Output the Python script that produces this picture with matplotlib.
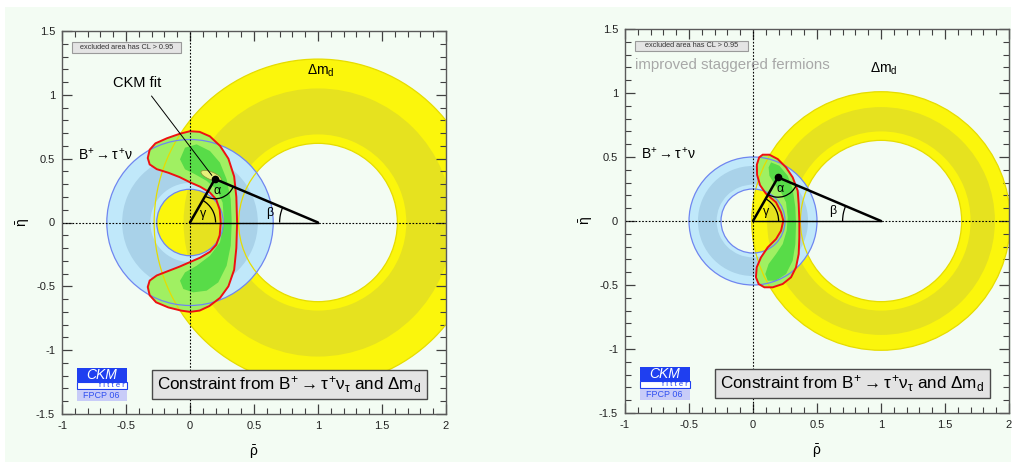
import matplotlib
matplotlib.use('Agg')
import matplotlib.pyplot as plt
from matplotlib.patches import Wedge, Circle, Polygon, Ellipse, Arc, Rectangle
from matplotlib.ticker import MultipleLocator, FuncFormatter
import numpy as np

plt.rcParams['font.family'] = ['Liberation Sans', 'DejaVu Sans']
plt.rcParams['mathtext.fontset'] = 'custom'
plt.rcParams['mathtext.rm'] = 'Liberation Sans'
plt.rcParams['mathtext.it'] = 'Liberation Sans'
plt.rcParams['mathtext.bf'] = 'Liberation Sans:bold'
plt.rcParams['axes.unicode_minus'] = False

# ---------------- data ----------------
apex_rho, apex_eta = 0.195, 0.341          # CKM fit apex
dmd_center = (1.0, 0.0)
btau_center = (0.0, 0.0)

# radii: [95% inner, 68% inner, 68% outer, 95% outer]
dmd_radii_left = [0.62, 0.69, 1.05, 1.28]
btau_radii_left = [0.26, 0.31, 0.53, 0.65]
dmd_radii_right = [0.63, 0.70, 0.89, 1.01]
btau_radii_right = [0.25, 0.284, 0.43, 0.50]

# combined constraint contours
left95_rho = [0.368, 0.362, 0.345, 0.300, 0.235, 0.155, 0.075, 0.000, -0.080, -0.180, -0.270,
              -0.315, -0.330, -0.315, -0.260, -0.170, -0.080, 0.000, 0.080, 0.155, 0.205, 0.232,
              0.240, 0.232, 0.205, 0.155, 0.080, 0.000, -0.080, -0.170, -0.260, -0.315, -0.330,
              -0.315, -0.265, -0.170, -0.070, 0.000, 0.075, 0.150, 0.235, 0.300, 0.345, 0.362]
left95_eta = [0.000, 0.200, 0.360, 0.500, 0.600, 0.675, 0.710, 0.715, 0.695, 0.660, 0.620,
              0.570, 0.505, 0.455, 0.418, 0.390, 0.355, 0.315, 0.280, 0.235, 0.180, 0.100,
              0.000, -0.100, -0.175, -0.230, -0.275, -0.310, -0.345, -0.380, -0.415, -0.455, -0.505,
              -0.570, -0.625, -0.665, -0.690, -0.700, -0.690, -0.655, -0.590, -0.500, -0.370, -0.200]

left68_rho = [-0.039, 0.052, 0.156, 0.234, 0.286, 0.318, 0.326, 0.318, 0.286, 0.221, 0.130,
              0.026, -0.052, -0.078, -0.039, 0.052, 0.156, 0.234, 0.266, 0.255, 0.208, 0.130,
              0.039, -0.039, -0.078]
left68_eta = [0.586, 0.612, 0.560, 0.469, 0.339, 0.182, 0.000, -0.182, -0.339, -0.469, -0.534,
              -0.547, -0.521, -0.456, -0.391, -0.339, -0.260, -0.156, 0.000, 0.156, 0.260, 0.326,
              0.378, 0.417, 0.495]

right95_rho = [0.076, 0.128, 0.193, 0.258, 0.310, 0.349, 0.357, 0.362, 0.362, 0.357, 0.336,
               0.297, 0.232, 0.154, 0.089, 0.044, 0.023, 0.029, 0.0625, 0.115, 0.180, 0.219,
               0.237, 0.219, 0.180, 0.100, 0.055, 0.032, 0.030, 0.048]
right95_eta = [0.518, 0.518, 0.484, 0.419, 0.341, 0.237, 0.133, 0.003, -0.128, -0.258, -0.362,
               -0.440, -0.492, -0.518, -0.518, -0.492, -0.440, -0.362, -0.284, -0.206, -0.141, -0.076,
               0.003, 0.068, 0.146, 0.215, 0.280, 0.360, 0.440, 0.497]

right68_rho = [0.141, 0.206, 0.271, 0.310, 0.331, 0.336, 0.331, 0.310, 0.258, 0.180, 0.115,
               0.096, 0.122, 0.180, 0.232, 0.263, 0.271, 0.258, 0.219, 0.167, 0.128, 0.122]
right68_eta = [0.458, 0.432, 0.354, 0.250, 0.107, -0.023, -0.180, -0.310, -0.414, -0.466, -0.466,
               -0.414, -0.336, -0.258, -0.180, -0.076, 0.029, 0.146, 0.224, 0.289, 0.354, 0.419]

x_major = [-1, -0.5, 0, 0.5, 1, 1.5, 2]
y_major = [-1.5, -1, -0.5, 0, 0.5, 1, 1.5]

# ---------------- colours ----------------
BG = '#f3fcf3'
Y95, Y68 = '#fbf60c', '#e6e21f'
B95, B68 = '#c0e8fa', '#a9d2e9'
BLINE = '#6f86f0'
G95, G68 = '#a0f062', '#58dc48'
RED = '#ee1111'
YLINE = '#e6dc00'

fig = plt.figure(figsize=(10.15, 4.68), dpi=100, facecolor='white')
fig.patches.append(Rectangle((5 / 1015, 6 / 468), 1006 / 1015, 455 / 468,
                             transform=fig.transFigure, fc=BG, ec='none', zorder=-10))


def annulus(ax, center, radii, c95, c68, z):
    r1, r2, r3, r4 = radii
    ax.add_patch(Wedge(center, r4, 0, 360, width=r4 - r1, fc=c95, ec='none', zorder=z))
    ax.add_patch(Wedge(center, r3, 0, 360, width=r3 - r2, fc=c68, ec='none', zorder=z + 0.1))


def draw_panel(ax, dmd_r, btau_r, c95, c68, show_fit, box_right, extra_text):
    ax.set_facecolor(BG)
    ax.set_xlim(-1, 2)
    ax.set_ylim(-1.5, 1.5)
    annulus(ax, dmd_center, dmd_r, Y95, Y68, 1)
    annulus(ax, btau_center, btau_r, B95, B68, 2)
    ax.add_patch(Polygon(np.column_stack([c95[0], c95[1]]), closed=True, fc=G95, ec='none', zorder=3))
    ax.add_patch(Polygon(np.column_stack([c68[0], c68[1]]), closed=True, fc=G68, ec='none', zorder=3.1))
    for r in (dmd_r[0], dmd_r[3]):
        ax.add_patch(Circle(dmd_center, r, fill=False, ec=YLINE, lw=0.9, zorder=4))
    for r in (btau_r[0], btau_r[3]):
        ax.add_patch(Circle(btau_center, r, fill=False, ec=BLINE, lw=0.9, zorder=4.1))
    ax.add_patch(Polygon(np.column_stack([c95[0], c95[1]]), closed=True, fill=False, ec=RED,
                         lw=1.4, zorder=4.5))
    if show_fit:
        ax.add_patch(Ellipse((0.165, 0.366), 0.17, 0.06, angle=-22, fc='#e6f07a', ec='#8a9a3a',
                             lw=0.6, zorder=5))
    # reference axes lines
    ax.axvline(0, color='k', lw=0.8, ls=(0, (1.5, 1.5)), zorder=6)
    ax.axhline(0, color='k', lw=0.8, ls=(0, (1.5, 1.5)), zorder=6)
    # unitarity triangle
    ax.plot([0, 1], [0, 0], color='k', lw=1.0, zorder=7)
    ax.plot([0, apex_rho, 1], [0, apex_eta, 0], color='k', lw=1.8, zorder=7,
            solid_capstyle='round')
    ax.plot([apex_rho], [apex_eta], 'o', color='k', ms=4.5, zorder=8)
    ang_o = np.degrees(np.arctan2(-apex_eta, -apex_rho))
    ang_1 = np.degrees(np.arctan2(-apex_eta, 1 - apex_rho))
    ax.add_patch(Arc((apex_rho, apex_eta), 0.31, 0.31, theta1=ang_o, theta2=ang_1,
                     color='k', lw=0.9, zorder=7))
    ang_g = np.degrees(np.arctan2(apex_eta, apex_rho))
    ax.add_patch(Arc((0, 0), 0.40, 0.40, theta1=0, theta2=ang_g, color='k', lw=0.9, zorder=7))
    ax.add_patch(Arc((1, 0), 0.60, 0.60, theta1=180 + ang_1, theta2=180, color='k', lw=0.9, zorder=7))
    ax.text(apex_rho + 0.02, 0.25, r'$\alpha$', fontsize=9, ha='center', va='center', zorder=9)
    ax.text(0.10, 0.06, r'$\gamma$', fontsize=9, ha='center', va='center', zorder=9)
    ax.text(0.63, 0.075, r'$\beta$', fontsize=9, ha='center', va='center', zorder=9)

    # labels
    ax.text(-0.875, 0.53, r'$\mathrm{B}^{+}\rightarrow\tau^{+}\nu$', fontsize=10,
            ha='left', va='center', zorder=9)
    ax.text(1.025, 1.19, r'$\Delta\mathrm{m}_{\mathrm{d}}$', fontsize=10,
            ha='center', va='center', zorder=9)
    # excluded area box
    ax.add_patch(Rectangle((-0.924, 1.33), box_right + 0.924, 0.08, fc='#e4e4e4', ec='#9a9a9a',
                           lw=0.8, zorder=9))
    ax.text((-0.924 + box_right) / 2, 1.37, 'excluded area has CL > 0.95', fontsize=5.3,
            color='#333333', ha='center', va='center', zorder=10)
    if extra_text:
        ax.text(-0.92, 1.22, extra_text, fontsize=10.8, color='#a8a8a8', ha='left',
                va='center', zorder=9)
    # constraint box
    ax.add_patch(Rectangle((-0.295, -1.384), 2.145, 0.23, fc='#e3e3e3', ec='#4a4a4a',
                           lw=1.0, zorder=9))
    ax.text(0.777, -1.268,
            r'Constraint from $\mathrm{B}^{+}\rightarrow\tau^{+}\nu_{\tau}$ and $\Delta\mathrm{m}_{\mathrm{d}}$',
            fontsize=12.3, ha='center', va='center', zorder=10)
    # CKMfitter logo
    ax.add_patch(Rectangle((-0.88, -1.247), 0.385, 0.104, fc='#1f3ff0', ec='none', zorder=9))
    ax.add_patch(Rectangle((-0.88, -1.304), 0.385, 0.057, fc='white', ec='#1f3ff0', lw=0.8,
                           zorder=9))
    ax.add_patch(Rectangle((-0.88, -1.396), 0.385, 0.086, fc='#c8ccf8', ec='none', zorder=9))
    ax.text(-0.69, -1.195, 'CKM', fontsize=10, style='italic', color='white', ha='center',
            va='center', zorder=10)
    ax.text(-0.51, -1.277, 'f i t t e r', fontsize=5.5, color='#1f3ff0', ha='right',
            va='center', zorder=10)
    ax.text(-0.69, -1.352, 'FPCP 06', fontsize=6.5, color='#3050f0', ha='center',
            va='center', zorder=10)

    # axes styling
    ax.xaxis.set_major_locator(plt.FixedLocator(x_major))
    ax.yaxis.set_major_locator(plt.FixedLocator(y_major))
    ax.xaxis.set_minor_locator(MultipleLocator(0.1))
    ax.yaxis.set_minor_locator(MultipleLocator(0.1))
    fmt = FuncFormatter(lambda v, p: '%g' % v)
    ax.xaxis.set_major_formatter(fmt)
    ax.yaxis.set_major_formatter(fmt)
    ax.tick_params(which='both', direction='in', top=True, right=True, colors='#404040',
                   labelcolor='#222222', labelsize=8)
    ax.tick_params(which='major', length=7, width=0.9, pad=5)
    ax.tick_params(which='minor', length=4, width=0.8)
    for s in ax.spines.values():
        s.set_color('#5a5a5a')
        s.set_linewidth(1.0)
        s.set_zorder(12)
    ax.set_xlabel(r'$\bar{\rho}$', fontsize=10, labelpad=9)
    ax.set_ylabel(r'$\bar{\eta}$', fontsize=10, labelpad=3)


axL = fig.add_axes([62 / 1015, 54 / 468, 384 / 1015, 383 / 468])
axR = fig.add_axes([625 / 1015, 55 / 468, 384 / 1015, 384 / 468])

draw_panel(axL, dmd_radii_left, btau_radii_left, (left95_rho, left95_eta),
           (left68_rho, left68_eta), True, -0.072, None)
axL.plot([-0.30, 0.17], [0.99, 0.37], color='k', lw=0.7, zorder=8)
axL.text(-0.41, 1.096, 'CKM fit', fontsize=10.5, ha='center', va='center', zorder=9)

draw_panel(axR, dmd_radii_right, btau_radii_right, (right95_rho, right95_eta),
           (right68_rho, right68_eta), False, -0.04, 'improved staggered fermions')

fig.savefig('out.png', dpi=100, facecolor=fig.get_facecolor())
